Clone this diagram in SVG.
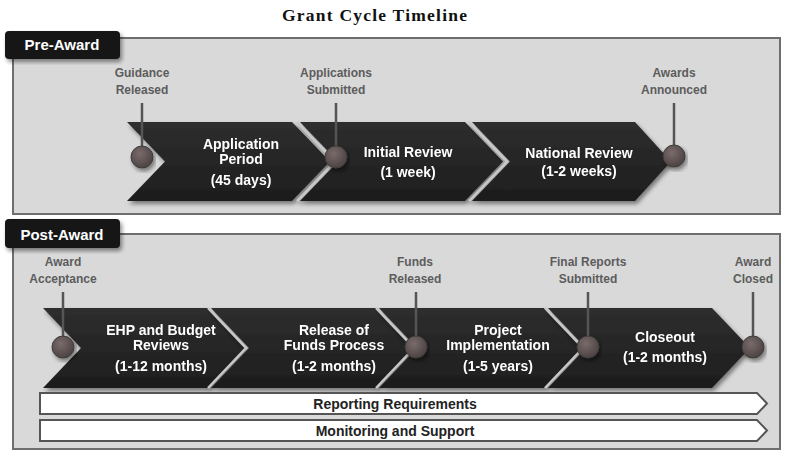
<svg xmlns="http://www.w3.org/2000/svg" width="785" height="453" viewBox="0 0 785 453">
<defs>
<style>
.title{font-family:"Liberation Serif",serif;font-weight:bold;font-size:17.5px;fill:#111}
.tab{fill:#141414}
.tabt{font-family:"Liberation Sans",Arial,sans-serif;font-weight:bold;font-size:15px;fill:#fff;text-anchor:middle}
.panel{fill:#d9d9d9;stroke:#6e6e6e;stroke-width:2}
.ms{font-family:"Liberation Sans",Arial,sans-serif;font-weight:bold;font-size:12px;fill:#5c5c5c;text-anchor:middle}
.ct{font-family:"Liberation Sans",Arial,sans-serif;font-weight:bold;font-size:14px;fill:#fff;text-anchor:middle}
.bt{font-family:"Liberation Sans",Arial,sans-serif;font-weight:bold;font-size:14px;fill:#222;text-anchor:middle}
.chev{fill:url(#cg)}
.hl{fill:none;stroke:#c8c8c8;stroke-width:2.5}
.stem{stroke:#555;stroke-width:2.5}
.dot{fill:url(#dg);stroke:#3c3c3c;stroke-width:1}
.bar{fill:#fff;stroke:#555;stroke-width:2}
</style>
<linearGradient id="cg" x1="0" y1="0" x2="0" y2="1">
<stop offset="0" stop-color="#2e2e2e"/>
<stop offset="1" stop-color="#1d1d1d"/>
</linearGradient>
<radialGradient id="dg" cx="0.4" cy="0.35" r="0.7">
<stop offset="0" stop-color="#7a6b6b"/>
<stop offset="1" stop-color="#4a4040"/>
</radialGradient>
<filter id="sh" x="-10%" y="-10%" width="120%" height="130%">
<feDropShadow dx="2" dy="3" stdDeviation="2" flood-color="#000" flood-opacity="0.45"/>
</filter>
</defs>

<text class="title" x="282" y="21" textLength="185" lengthAdjust="spacing">Grant Cycle Timeline</text>

<!-- Pre-Award panel -->
<g id="pre-award">
<rect class="panel" x="13" y="38" width="767" height="176"/>
<rect class="tab" x="5" y="31" width="115" height="28" rx="4" filter="url(#sh)"/>
<text class="tabt" x="62" y="50">Pre-Award</text>
</g>

<!-- Post-Award panel -->
<g id="post-award">
<rect class="panel" x="13" y="234" width="767" height="215"/>
<rect class="tab" x="5" y="219" width="115" height="29" rx="4" filter="url(#sh)"/>
<text class="tabt" x="62" y="240">Post-Award</text>
</g>

<!-- Pre-Award chevrons -->
<g id="application-period" filter="url(#sh)">
<polygon class="chev" points="127,122 292,122 330,161.5 292,201 127,201 165,161.5"/>
<text class="ct" x="241" y="149">Application</text>
<text class="ct" x="241" y="164">Period</text>
<text class="ct" x="241" y="185">(45 days)</text>
</g>
<g id="initial-review" filter="url(#sh)">
<polygon class="chev" points="300,122 465,122 503,161.5 465,201 300,201 338,161.5"/>
<polyline class="hl" points="297,122 335,161.5 297,201"/>
<text class="ct" x="408" y="157">Initial Review</text>
<text class="ct" x="408" y="177">(1 week)</text>
</g>
<g id="national-review" filter="url(#sh)">
<polygon class="chev" points="472,122 635,122 671,161.5 635,201 472,201 510,161.5"/>
<polyline class="hl" points="469,122 507,161.5 469,201"/>
<text class="ct" x="579" y="158">National Review</text>
<text class="ct" x="579" y="176">(1-2 weeks)</text>
</g>

<!-- Post-Award chevrons -->
<g id="ehp-budget-reviews" filter="url(#sh)">
<polygon class="chev" points="43,308 208,308 246,348 208,388 43,388 81,348"/>
<text class="ct" x="161" y="335">EHP and Budget</text>
<text class="ct" x="161" y="350">Reviews</text>
<text class="ct" x="161" y="371">(1-12 months)</text>
</g>
<g id="release-of-funds" filter="url(#sh)">
<polygon class="chev" points="211,308 376,308 414,348 376,388 211,388 249,348"/>
<polyline class="hl" points="208,308 246,348 208,388"/>
<text class="ct" x="334" y="335">Release of</text>
<text class="ct" x="334" y="350">Funds Process</text>
<text class="ct" x="334" y="371">(1-2 months)</text>
</g>
<g id="project-implementation" filter="url(#sh)">
<polygon class="chev" points="379,308 544,308 582,348 544,388 379,388 417,348"/>
<polyline class="hl" points="376,308 414,348 376,388"/>
<text class="ct" x="498" y="335">Project</text>
<text class="ct" x="498" y="350">Implementation</text>
<text class="ct" x="498" y="371">(1-5 years)</text>
</g>
<g id="closeout" filter="url(#sh)">
<polygon class="chev" points="548,308 712,308 750,348 712,388 548,388 586,348"/>
<polyline class="hl" points="545,308 583,348 545,388"/>
<text class="ct" x="665" y="342">Closeout</text>
<text class="ct" x="665" y="362">(1-2 months)</text>
</g>

<!-- Bars -->
<g id="reporting-requirements">
<polygon class="bar" points="40,393 757,393 767,403.5 757,414 40,414"/>
<text class="bt" x="395" y="409">Reporting Requirements</text>
</g>
<g id="monitoring-support">
<polygon class="bar" points="40,420 757,420 767,430.5 757,441 40,441"/>
<text class="bt" x="395" y="436">Monitoring and Support</text>
</g>

<!-- Milestone connectors -->
<g id="connectors">
<line class="stem" x1="142" y1="103" x2="142" y2="150"/>
<line class="stem" x1="336" y1="103" x2="336" y2="150"/>
<line class="stem" x1="674" y1="103" x2="674" y2="148"/>
<line class="stem" x1="63" y1="292" x2="63" y2="340"/>
<line class="stem" x1="416" y1="292" x2="416" y2="340"/>
<line class="stem" x1="588" y1="292" x2="588" y2="340"/>
<line class="stem" x1="753" y1="292" x2="753" y2="340"/>
</g>

<!-- Milestones -->
<g id="guidance-released">
<text class="ms" x="142" y="77">Guidance</text>
<text class="ms" x="142" y="94">Released</text>
<circle class="dot" cx="142" cy="157" r="11" filter="url(#sh)"/>
</g>
<g id="applications-submitted">
<text class="ms" x="336" y="77">Applications</text>
<text class="ms" x="336" y="94">Submitted</text>
<circle class="dot" cx="336" cy="157" r="11" filter="url(#sh)"/>
</g>
<g id="awards-announced">
<text class="ms" x="674" y="77">Awards</text>
<text class="ms" x="674" y="94">Announced</text>
<circle class="dot" cx="674" cy="156" r="11" filter="url(#sh)"/>
</g>
<g id="award-acceptance">
<text class="ms" x="63" y="266">Award</text>
<text class="ms" x="63" y="283">Acceptance</text>
<circle class="dot" cx="63" cy="347" r="11" filter="url(#sh)"/>
</g>
<g id="funds-released">
<text class="ms" x="415" y="266">Funds</text>
<text class="ms" x="415" y="283">Released</text>
<circle class="dot" cx="416" cy="347" r="11" filter="url(#sh)"/>
</g>
<g id="final-reports-submitted">
<text class="ms" x="588" y="266">Final Reports</text>
<text class="ms" x="588" y="283">Submitted</text>
<circle class="dot" cx="588" cy="347" r="11" filter="url(#sh)"/>
</g>
<g id="award-closed">
<text class="ms" x="753" y="266">Award</text>
<text class="ms" x="753" y="283">Closed</text>
<circle class="dot" cx="753" cy="347" r="11" filter="url(#sh)"/>
</g>
</svg>
